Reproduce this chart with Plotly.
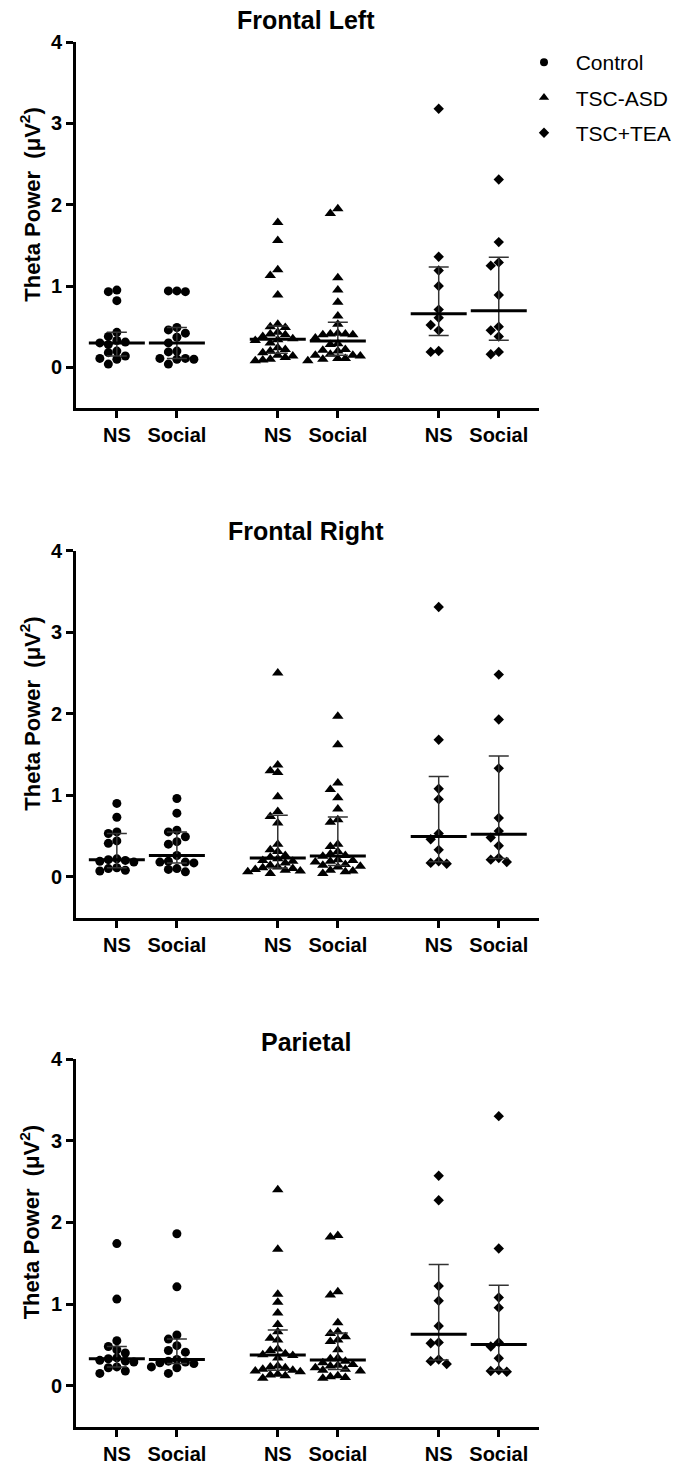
import numpy as np
import plotly.graph_objects as go

W, H = 677, 1465

regions = ["Frontal Left", "Frontal Right", "Parietal"]
groups = ["Control", "TSC-ASD", "TSC+TEA"]
conditions = ["NS", "Social"]
y_ticks = [0, 1, 2, 3, 4]
y_title = "Theta Power  (μV<sup>2</sup>)"

# ---- Frontal Left ----
fl_control_ns = [0.95, 0.93, 0.82, 0.43, 0.38, 0.33, 0.31, 0.30, 0.28, 0.20, 0.18, 0.14, 0.11, 0.10, 0.04]
fl_control_social = [0.94, 0.94, 0.93, 0.49, 0.46, 0.42, 0.37, 0.30, 0.20, 0.19, 0.11, 0.11, 0.10, 0.10, 0.04]
fl_asd_ns = [1.78, 1.56, 1.20, 1.13, 0.89, 0.53, 0.50, 0.49, 0.43, 0.41, 0.40, 0.38, 0.35, 0.34, 0.33,
             0.30, 0.24, 0.22, 0.20, 0.18, 0.15, 0.14, 0.12, 0.10, 0.09, 0.08]
fl_asd_social = [1.95, 1.89, 1.10, 0.95, 0.80, 0.63, 0.53, 0.42, 0.41, 0.41, 0.40, 0.40, 0.36, 0.29, 0.28,
                 0.22, 0.21, 0.20, 0.16, 0.15, 0.15, 0.14, 0.11, 0.11, 0.10, 0.08]
fl_tea_ns = [3.18, 1.36, 1.19, 1.00, 0.71, 0.61, 0.52, 0.455, 0.20, 0.19]
fl_tea_social = [2.31, 1.54, 1.29, 1.25, 0.89, 0.50, 0.455, 0.38, 0.19, 0.16]

# ---- Frontal Right ----
fr_control_ns = [0.90, 0.73, 0.55, 0.53, 0.44, 0.41, 0.22, 0.21, 0.20, 0.19, 0.18, 0.11, 0.10, 0.08, 0.07]
fr_control_social = [0.96, 0.78, 0.57, 0.55, 0.49, 0.43, 0.40, 0.26, 0.19, 0.18, 0.18, 0.17, 0.10, 0.09, 0.06]
fr_asd_ns = [2.50, 1.37, 1.30, 1.28, 0.98, 0.80, 0.74, 0.66, 0.40, 0.33, 0.31, 0.26, 0.24, 0.22, 0.20,
             0.19, 0.17, 0.14, 0.12, 0.11, 0.10, 0.09, 0.08, 0.07, 0.06, 0.04]
fr_asd_social = [1.97, 1.62, 1.15, 1.07, 0.97, 0.83, 0.70, 0.67, 0.40, 0.37, 0.31, 0.28, 0.26, 0.25, 0.21,
                 0.20, 0.19, 0.18, 0.15, 0.14, 0.13, 0.12, 0.08, 0.07, 0.06, 0.04]
fr_tea_ns = [3.31, 1.68, 1.08, 0.95, 0.53, 0.46, 0.33, 0.19, 0.17, 0.16]
fr_tea_social = [2.48, 1.93, 1.33, 0.72, 0.56, 0.48, 0.38, 0.23, 0.21, 0.18]

# ---- Parietal ----
pa_control_ns = [1.74, 1.06, 0.55, 0.48, 0.44, 0.40, 0.34, 0.33, 0.31, 0.30, 0.29, 0.23, 0.22, 0.18, 0.15]
pa_control_social = [1.86, 1.21, 0.62, 0.57, 0.49, 0.43, 0.41, 0.32, 0.30, 0.29, 0.28, 0.27, 0.23, 0.22, 0.15]
pa_asd_ns = [2.40, 1.67, 1.12, 1.02, 0.89, 0.75, 0.66, 0.58, 0.56, 0.45, 0.43, 0.39, 0.38, 0.37, 0.34,
             0.24, 0.23, 0.22, 0.20, 0.19, 0.18, 0.17, 0.14, 0.13, 0.12, 0.09]
pa_asd_social = [1.84, 1.82, 1.15, 1.11, 0.77, 0.66, 0.64, 0.60, 0.56, 0.54, 0.44, 0.34, 0.33, 0.30, 0.28,
                 0.26, 0.25, 0.24, 0.22, 0.20, 0.19, 0.18, 0.12, 0.11, 0.10, 0.09]
pa_tea_ns = [2.57, 2.27, 1.22, 1.04, 0.73, 0.53, 0.52, 0.32, 0.30, 0.265]
pa_tea_social = [3.30, 1.68, 1.08, 0.955, 0.53, 0.48, 0.335, 0.19, 0.18, 0.17]

panel_data = [
    [[fl_control_ns, fl_control_social], [fl_asd_ns, fl_asd_social], [fl_tea_ns, fl_tea_social]],
    [[fr_control_ns, fr_control_social], [fr_asd_ns, fr_asd_social], [fr_tea_ns, fr_tea_social]],
    [[pa_control_ns, pa_control_social], [pa_asd_ns, pa_asd_social], [pa_tea_ns, pa_tea_social]],
]

# ---- styling / layout ----
FONT = "Arial, Liberation Sans, sans-serif"
symbols = {"Control": "circle", "TSC-ASD": "triangle-up", "TSC+TEA": "diamond"}
msize = {"Control": 9, "TSC-ASD": 10, "TSC+TEA": 8}
leg_size = {"Control": 8, "TSC-ASD": 9, "TSC+TEA": 8}
step_px = {"Control": 8.5, "TSC-ASD": 7.5, "TSC+TEA": 8}
sep_px = {"Control": 8, "TSC-ASD": 7, "TSC+TEA": 7.5}

group_gap = 2.68
x_range = [-0.68, 7.03]
y_range = [-0.5, 4]
x_dom_px = (76, 539)
# (top pixel of y=4, bottom pixel of y=-0.5)
y_dom_px = [(42, 408), (550.7, 917.5), (1059, 1426.5)]
title_px = [20, 531, 1042]

x_dom = [x_dom_px[0] / W, x_dom_px[1] / W]
ppu_x = (x_dom_px[1] - x_dom_px[0]) / (x_range[1] - x_range[0])


def swarm_cols(vals, sep, ppu_y):
    vals = np.asarray(vals, float)
    order = np.argsort(-vals, kind="stable")
    placed = []
    cols = np.zeros(len(vals))
    cands = [0]
    for m in range(1, 15):
        cands += [-m, m]
    for i in order:
        ypx = vals[i] * ppu_y
        for c in cands:
            if all(not (pc == c and abs(py - ypx) < sep) for pc, py in placed):
                cols[i] = c
                placed.append((c, ypx))
                break
    return cols


fig = go.Figure()
layout = dict(
    width=W, height=H,
    margin=dict(l=0, r=0, t=0, b=0, pad=0, autoexpand=False),
    paper_bgcolor="white", plot_bgcolor="white",
    font=dict(family=FONT, color="black"),
    showlegend=True,
    annotations=[],
)

for p, region in enumerate(regions):
    sfx = "" if p == 0 else str(p + 1)
    xa, ya = "x" + sfx, "y" + sfx
    top_px, bot_px = y_dom_px[p]
    y_dom = [1 - bot_px / H, 1 - top_px / H]
    ppu_y = (bot_px - top_px) / (y_range[1] - y_range[0])

    tickvals, ticktext = [], []
    for g, grp in enumerate(groups):
        for c, cond in enumerate(conditions):
            pos = g * group_gap + c
            tickvals.append(pos)
            ticktext.append(cond)
            vals = np.asarray(panel_data[p][g][c], float)
            cols = swarm_cols(vals, sep_px[grp], ppu_y)
            xs = pos + cols * step_px[grp] / ppu_x
            fig.add_trace(go.Scatter(
                x=xs, y=vals, mode="markers", xaxis=xa, yaxis=ya,
                marker=dict(symbol=symbols[grp], size=msize[grp], color="black", line=dict(width=0)),
                showlegend=False, hoverinfo="skip"))
            med = float(np.median(vals))
            q1 = float(np.percentile(vals, 25, method="weibull"))
            q3 = float(np.percentile(vals, 75, method="weibull"))
            fig.add_trace(go.Scatter(
                x=[pos], y=[med], mode="markers", xaxis=xa, yaxis=ya,
                marker=dict(symbol="line-ew", size=40, color="black", line=dict(width=3, color="black")),
                error_y=dict(type="data", symmetric=False, array=[q3 - med], arrayminus=[med - q1],
                             width=10, thickness=1.5, color="#333333"),
                showlegend=False, hoverinfo="skip"))

    layout["xaxis" + sfx] = dict(
        domain=x_dom, range=x_range, anchor=ya, tickmode="array", tickvals=tickvals, ticktext=ticktext,
        showline=True, linewidth=3, linecolor="black", ticks="outside", ticklen=7, tickwidth=3,
        tickcolor="black", showgrid=False, zeroline=False, automargin=False,
        tickfont=dict(family=FONT, size=20, color="black", weight="bold"))
    layout["yaxis" + sfx] = dict(
        domain=y_dom, range=y_range, anchor=xa, tickmode="array", tickvals=y_ticks,
        ticktext=[str(t) for t in y_ticks],
        showline=True, linewidth=3, linecolor="black", ticks="outside", ticklen=7, tickwidth=3,
        tickcolor="black", showgrid=False, zeroline=False, automargin=False,
        tickfont=dict(family=FONT, size=20, color="black", weight="bold"))
    layout["annotations"].append(dict(
        text=region, xref="paper", yref="paper", x=(x_dom[0] + x_dom[1]) / 2 - 2 / W,
        y=1 - title_px[p] / H, xanchor="center", yanchor="middle", showarrow=False,
        font=dict(family=FONT, size=25, color="black", weight="bold")))
    layout["annotations"].append(dict(
        text=y_title, xref="paper", yref=ya, x=30 / W, y=2, xanchor="center", yanchor="middle",
        textangle=-90, showarrow=False,
        font=dict(family=FONT, size=22, color="black", weight="bold")))

for grp in groups:
    fig.add_trace(go.Scatter(
        x=[None], y=[None], mode="markers", name="\u00a0\u00a0" + grp, legendgroup=grp,
        marker=dict(symbol=symbols[grp], size=leg_size[grp], color="black"), showlegend=True))

layout["legend"] = dict(
    x=524 / W, y=1 - 42 / H, xanchor="left", yanchor="top", traceorder="grouped",
    tracegroupgap=5, bgcolor="rgba(0,0,0,0)", borderwidth=0,
    font=dict(family=FONT, size=21, color="black"))

fig.update_layout(**layout)
fig.write_html("out.html")
